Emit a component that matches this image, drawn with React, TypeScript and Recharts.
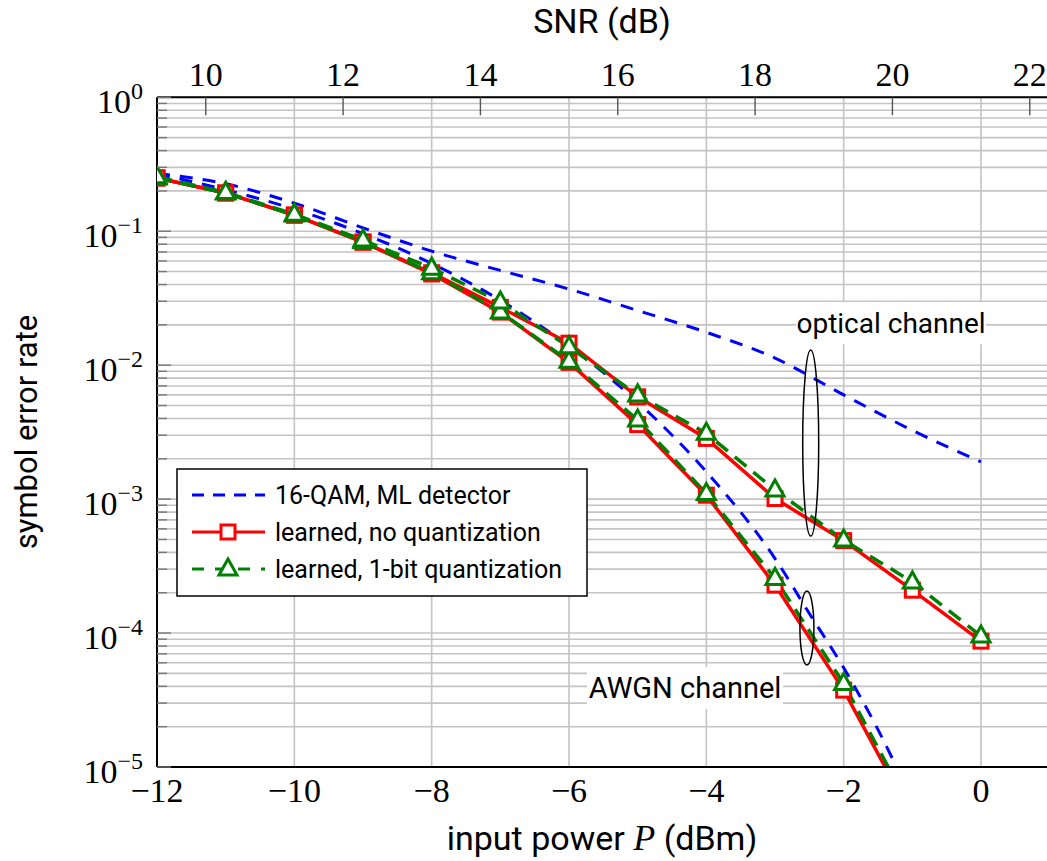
import React from 'react';
import { LineChart, Line, XAxis, YAxis, CartesianGrid, ReferenceDot } from 'recharts';

// 16-QAM, ML detector (theory curves)
const powerQamAwgn = [-12, -11, -10, -9, -8, -7, -6, -5, -4, -3, -2.5, -2, -1.5, -1];
const serQamAwgn = [0.268, 0.204, 0.146, 0.096, 0.0575, 0.0305, 0.0139, 0.0053, 0.0016, 3.6e-4, 1.4e-4, 5.5e-5, 1.9e-5, 5.6e-6];
const powerQamOptical = [-12, -11, -10, -9, -8, -7, -6, -5, -4, -3, -2, -1, 0];
const serQamOptical = [0.27, 0.226, 0.162, 0.106, 0.071, 0.051, 0.037, 0.0256, 0.0176, 0.0113, 0.006, 0.00326, 0.0019];

// learned constellations
const powerLearnedAwgn = [-12, -11, -10, -9, -8, -7, -6, -5, -4, -3, -2, -1];
const serNoQuantAwgn = [0.25, 0.193, 0.132, 0.083, 0.048, 0.0249, 0.0105, 0.0036, 0.00107, 2.28e-4, 3.75e-5, 4.2e-6];
const serOneBitAwgn = [0.25, 0.193, 0.132, 0.084, 0.049, 0.025, 0.0107, 0.0039, 0.0011, 2.56e-4, 4.2e-5, 4.6e-6];
const powerLearnedOptical = [-12, -11, -10, -9, -8, -7, -6, -5, -4, -3, -2, -1, 0];
const serNoQuantOptical = [0.25, 0.193, 0.132, 0.083, 0.049, 0.027, 0.0146, 0.0058, 0.00284, 0.00101, 4.9e-4, 2.09e-4, 8.7e-5];
const serOneBitOptical = [0.255, 0.195, 0.134, 0.086, 0.053, 0.0296, 0.0137, 0.006, 0.0031, 0.00117, 4.95e-4, 2.41e-4, 9.5e-5];

const powerTicks = [-12, -10, -8, -6, -4, -2, 0];
const snrTicks = [10, 12, 14, 16, 18, 20, 22];
const decades = [-5, -4, -3, -2, -1, 0];
const snrOffset = 21.29; // SNR (dB) = P (dBm) + offset

const SERIF = "'Liberation Serif', 'DejaVu Serif', serif";
const SANS = "Roboto, 'Noto Sans', sans-serif";
const BLUE = '#0000ff';
const RED = '#ff0000';
const GREEN = '#008000';

const toRows = (xs: number[], ys: number[]) => xs.map((p, i) => ({ p, ser: ys[i] }));

const serTicks: number[] = [];
decades.forEach((d) => {
  serTicks.push(Math.pow(10, d));
  if (d < 0) for (let m = 2; m <= 9; m++) serTicks.push(m * Math.pow(10, d));
});

// only there so the SNR axis has something bound to it
const snrRows = snrTicks.map((snr) => ({ snr }));

const minus = (v: number) => (v < 0 ? `\u2212${-v}` : `${v}`);

const PowerTick = ({ x, y, payload }: any) => (
  <text x={x} y={y} textAnchor="middle" fontFamily={SERIF} fontSize={34} fill="#000">
    {minus(payload.value)}
  </text>
);

const SnrTick = ({ x, y, payload }: any) => (
  <g>
    <line x1={x} x2={x} y1={y + 11} y2={y + 29} stroke="#555" strokeWidth={1.4} />
    <text x={x} y={y} textAnchor="middle" fontFamily={SERIF} fontSize={34} fill="#000">
      {payload.value}
    </text>
  </g>
);

const SerTick = ({ x, y, payload }: any) => {
  const lg = Math.log10(payload.value);
  const e = Math.round(lg);
  const major = Math.abs(lg - e) < 1e-6;
  return (
    <g>
      <line x1={x + 14} x2={x + 14 + (major ? 14 : 10)} y1={y} y2={y} stroke="#777" strokeWidth={1.4} />
      {major && (
        <text x={x} y={y + 16} textAnchor="end" fontFamily={SERIF} fontSize={34} fill="#000">
          10
          <tspan fontSize={24} dy={-14}>{minus(e)}</tspan>
        </text>
      )}
    </g>
  );
};

const Square = (props: any) => {
  const { cx, cy, index } = props;
  if (cx == null || cy == null) return <g key={index} />;
  return <rect key={index} x={cx - 7} y={cy - 7} width={14} height={14} fill="#fff" stroke={RED} strokeWidth={3} />;
};

const Triangle = (props: any) => {
  const { cx, cy, index } = props;
  if (cx == null || cy == null) return <g key={index} />;
  return (
    <polygon
      key={index}
      points={`${cx},${cy - 10} ${cx - 9},${cy + 6} ${cx + 9},${cy + 6}`}
      fill="#fff"
      stroke={GREEN}
      strokeWidth={3}
    />
  );
};

const boxedText = (text: string, w: number, size: number) => (p: any) => (
  <g>
    <rect x={p.cx - w / 2} y={p.cy - 21} width={w} height={42} fill="#fff" />
    <text x={p.cx} y={p.cy + 10} textAnchor="middle" fontFamily={SANS} fontSize={size} fill="#000">
      {text}
    </text>
  </g>
);

const ellipse = (rx: number, ry: number) => (p: any) => (
  <ellipse cx={p.cx} cy={p.cy} rx={rx} ry={ry} fill="none" stroke="#000" strokeWidth={1.5} />
);

function LegendBox() {
  const rows = [
    { label: '16-QAM, ML detector', color: BLUE, dash: '12 9', marker: null },
    { label: 'learned, no quantization', color: RED, dash: undefined, marker: 'square' },
    { label: 'learned, 1-bit quantization', color: GREEN, dash: '12 11', marker: 'triangle' },
  ];
  return (
    <svg width={412} height={130} style={{ position: 'absolute', left: 176, top: 468 }}>
      <rect x={1} y={1} width={410} height={127} fill="#fff" stroke="#000" strokeWidth={1.5} />
      {rows.map((r, i) => {
        const cy = 27 + i * 37;
        return (
          <g key={r.label}>
            <line x1={16} x2={89} y1={cy} y2={cy} stroke={r.color} strokeWidth={3.2} strokeDasharray={r.dash} />
            {r.marker === 'square' && <rect x={45} y={cy - 7} width={14} height={14} fill="#fff" stroke={RED} strokeWidth={3} />}
            {r.marker === 'triangle' && (
              <polygon points={`52,${cy - 10} 43,${cy + 6} 61,${cy + 6}`} fill="#fff" stroke={GREEN} strokeWidth={3} />
            )}
            <text x={99} y={cy + 9} fontFamily={SANS} fontSize={25} fill="#000">
              {r.label}
            </text>
          </g>
        );
      })}
    </svg>
  );
}

export default function App() {
  return (
    <div style={{ position: 'absolute', left: 0, top: 0, width: 1047, height: 861, overflow: 'hidden', background: '#fff' }}>
      <LineChart width={1060} height={861} margin={{ top: 57.3, right: 10.33, bottom: 54, left: 97 }}>
        <CartesianGrid stroke="#c4c4c4" strokeWidth={1.6} />
        <XAxis
          xAxisId={0}
          dataKey="p"
          type="number"
          domain={[-12, 1]}
          allowDataOverflow
          ticks={powerTicks}
          interval={0}
          height={40}
          tickSize={0}
          tickMargin={35}
          tick={<PowerTick />}
          axisLine={{ stroke: '#000', strokeWidth: 2 }}
          tickLine={false}
        />
        <XAxis
          xAxisId="snr"
          orientation="top"
          dataKey="snr"
          type="number"
          domain={[-12 + snrOffset, 1 + snrOffset]}
          allowDataOverflow
          ticks={snrTicks}
          interval={0}
          height={40}
          tickSize={0}
          tickMargin={11}
          tick={<SnrTick />}
          axisLine={{ stroke: '#000', strokeWidth: 2 }}
          tickLine={false}
        />
        <YAxis
          type="number"
          scale="log"
          domain={[1e-5, 1]}
          allowDataOverflow
          ticks={serTicks}
          interval={0}
          width={60}
          tickSize={0}
          tickMargin={14}
          tick={<SerTick />}
          axisLine={{ stroke: '#000', strokeWidth: 2 }}
          tickLine={false}
        />

        <ReferenceDot x={-2.48} y={2.62e-3} r={0} shape={ellipse(8, 93)} />
        <ReferenceDot x={-2.535} y={1.09e-4} r={0} shape={ellipse(7, 37)} />

        <Line xAxisId="snr" data={snrRows} dataKey="ser" stroke="none" dot={false} legendType="none" isAnimationActive={false} />

        <Line data={toRows(powerQamOptical, serQamOptical)} dataKey="ser" type="monotone" stroke={BLUE} strokeWidth={3} strokeDasharray="13 10" dot={false} isAnimationActive={false} />
        <Line data={toRows(powerQamAwgn, serQamAwgn)} dataKey="ser" type="monotone" stroke={BLUE} strokeWidth={3} strokeDasharray="13 10" dot={false} isAnimationActive={false} />
        <Line data={toRows(powerLearnedAwgn, serNoQuantAwgn)} dataKey="ser" type="linear" stroke={RED} strokeWidth={3.5} dot={<Square />} isAnimationActive={false} />
        <Line data={toRows(powerLearnedOptical, serNoQuantOptical)} dataKey="ser" type="linear" stroke={RED} strokeWidth={3.5} dot={<Square />} isAnimationActive={false} />
        <Line data={toRows(powerLearnedAwgn, serOneBitAwgn)} dataKey="ser" type="linear" stroke={GREEN} strokeWidth={3.5} strokeDasharray="15 9" dot={<Triangle />} isAnimationActive={false} />
        <Line data={toRows(powerLearnedOptical, serOneBitOptical)} dataKey="ser" type="linear" stroke={GREEN} strokeWidth={3.5} strokeDasharray="15 9" dot={<Triangle />} isAnimationActive={false} />

        <ReferenceDot x={-1.31} y={0.0206} r={0} shape={boxedText('optical channel', 190, 28)} />
        <ReferenceDot x={-4.31} y={3.88e-5} r={0} shape={boxedText('AWGN channel', 196, 29)} />
      </LineChart>

      <svg width={1047} height={861} style={{ position: 'absolute', left: 0, top: 0, pointerEvents: 'none' }}>
        <text x={602} y={33} textAnchor="middle" fontFamily={SANS} fontSize={34} fill="#000">SNR (dB)</text>
        <text x={602} y={850} textAnchor="middle" fontFamily={SANS} fontSize={34} fill="#000">
          input power{' '}
          <tspan fontFamily={SERIF} fontStyle="italic" fontSize={36}>P</tspan>
          {' '}(dBm)
        </text>
        <text transform="translate(37,432) rotate(-90)" textAnchor="middle" fontFamily={SANS} fontSize={31} fill="#000">
          symbol error rate
        </text>
      </svg>
      <LegendBox />
    </div>
  );
}
